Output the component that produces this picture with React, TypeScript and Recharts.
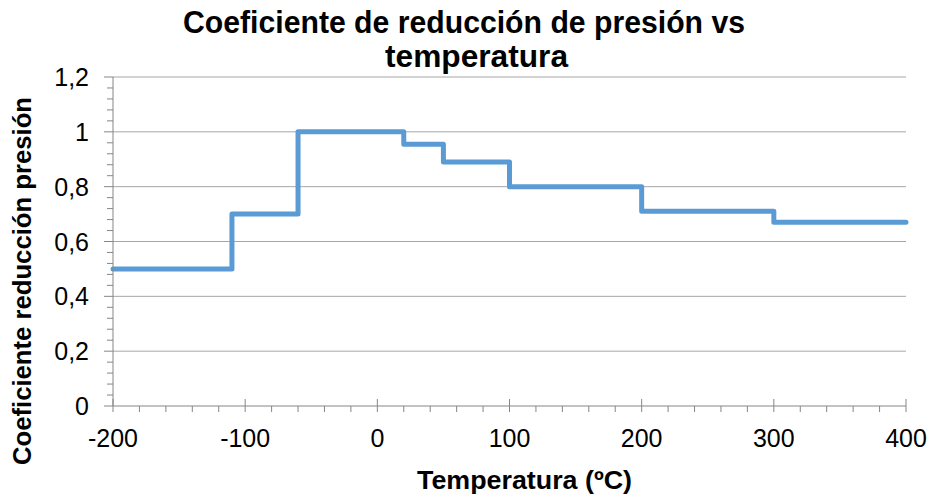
import React from "react";
import { LineChart, Line, XAxis, YAxis, ReferenceLine } from "recharts";

// Step points: temperature (ºC) -> pressure reduction coefficient
const temps = [-200, -110, -60, 20, 50, 100, 200, 300, 400];
const coefs = [0.5, 0.7, 1.0, 0.955, 0.89, 0.8, 0.71, 0.67, 0.67];

const xMajorTicks = [-200, -100, 0, 100, 200, 300, 400];
const yMajorTicks = [0, 0.2, 0.4, 0.6, 0.8, 1, 1.2];
const yTickLabels = ["0", "0,2", "0,4", "0,6", "0,8", "1", "1,2"];

const xMinorTicks: number[] = [];
for (let v = -200; v <= 400; v += 20) xMinorTicks.push(v);
const yMinorTicks: number[] = [];
for (let i = 0; i <= 30; i++) yMinorTicks.push(Math.round(i * 4) / 100);

const data = temps.map((t, i) => ({ t, c: coefs[i] }));

const FONT = "'Liberation Sans', Arial, sans-serif";
const AXIS = "#868686";
const GRID = "#a6a6a6";

const XTick = (props: any) => {
  const { x, y, payload } = props;
  const v = payload.value as number;
  const major = xMajorTicks.includes(v);
  return (
    <g>
      <line x1={x} x2={x} y1={major ? y - 7 : y} y2={y + 6} stroke={AXIS} strokeWidth={1} />
      {major && (
        <text x={x} y={y + 41} textAnchor="middle" fontSize={25} fontFamily={FONT} fill="#000">
          {v}
        </text>
      )}
    </g>
  );
};

const YTick = (props: any) => {
  const { x, y, payload } = props;
  const v = payload.value as number;
  const idx = yMajorTicks.findIndex((m) => Math.abs(m - v) < 1e-6);
  const major = idx >= 0;
  return (
    <g>
      <line x1={major ? x - 9 : x - 6} x2={x} y1={y} y2={y} stroke={AXIS} strokeWidth={1} />
      {major && (
        <text x={x - 24} y={y + 9} textAnchor="end" fontSize={25} fontFamily={FONT} fill="#000">
          {yTickLabels[idx]}
        </text>
      )}
    </g>
  );
};

export default function App() {
  return (
    <div style={{ position: "absolute", left: 0, top: 0, width: 931, height: 497, background: "#fff" }}>
      <LineChart
        width={931}
        height={497}
        data={data}
        margin={{ top: 77, right: 25, bottom: 31, left: 53 }}
      >
        {yMajorTicks.slice(1).map((v) => (
          <ReferenceLine key={v} y={v} stroke={GRID} strokeWidth={1} />
        ))}
        <XAxis
          dataKey="t"
          type="number"
          domain={[-200, 400]}
          ticks={xMinorTicks}
          interval={0}
          height={60}
          tickSize={0}
          tickMargin={0}
          tickLine={false}
          axisLine={{ stroke: AXIS, strokeWidth: 1 }}
          tick={<XTick />}
        />
        <YAxis
          type="number"
          domain={[0, 1.2]}
          ticks={yMinorTicks}
          interval={0}
          width={60}
          tickSize={0}
          tickMargin={0}
          tickLine={false}
          axisLine={{ stroke: AXIS, strokeWidth: 1 }}
          tick={<YTick />}
        />
        <Line
          type="stepAfter"
          dataKey="c"
          stroke="#5b9bd5"
          strokeWidth={5}
          strokeLinecap="round"
          strokeLinejoin="round"
          dot={false}
          activeDot={false}
          isAnimationActive={false}
        />
      </LineChart>
      <svg
        width={931}
        height={497}
        style={{ position: "absolute", left: 0, top: 0, pointerEvents: "none" }}
      >
        <g fontFamily={FONT} fontWeight="bold" fill="#000">
          <text x={464} y={33} textAnchor="middle" fontSize={31} textLength={562} lengthAdjust="spacingAndGlyphs">
            Coeficiente de reducción de presión vs
          </text>
          <text x={476.5} y={67} textAnchor="middle" fontSize={31} textLength={183} lengthAdjust="spacingAndGlyphs">
            temperatura
          </text>
          <text x={524.5} y={489} textAnchor="middle" fontSize={25} textLength={215} lengthAdjust="spacingAndGlyphs">
            Temperatura (ºC)
          </text>
          <text
            x={31}
            y={281}
            textAnchor="middle"
            fontSize={25}
            textLength={368}
            lengthAdjust="spacingAndGlyphs"
            transform="rotate(-90 31 281)"
          >
            Coeficiente reducción presión
          </text>
        </g>
      </svg>
    </div>
  );
}
